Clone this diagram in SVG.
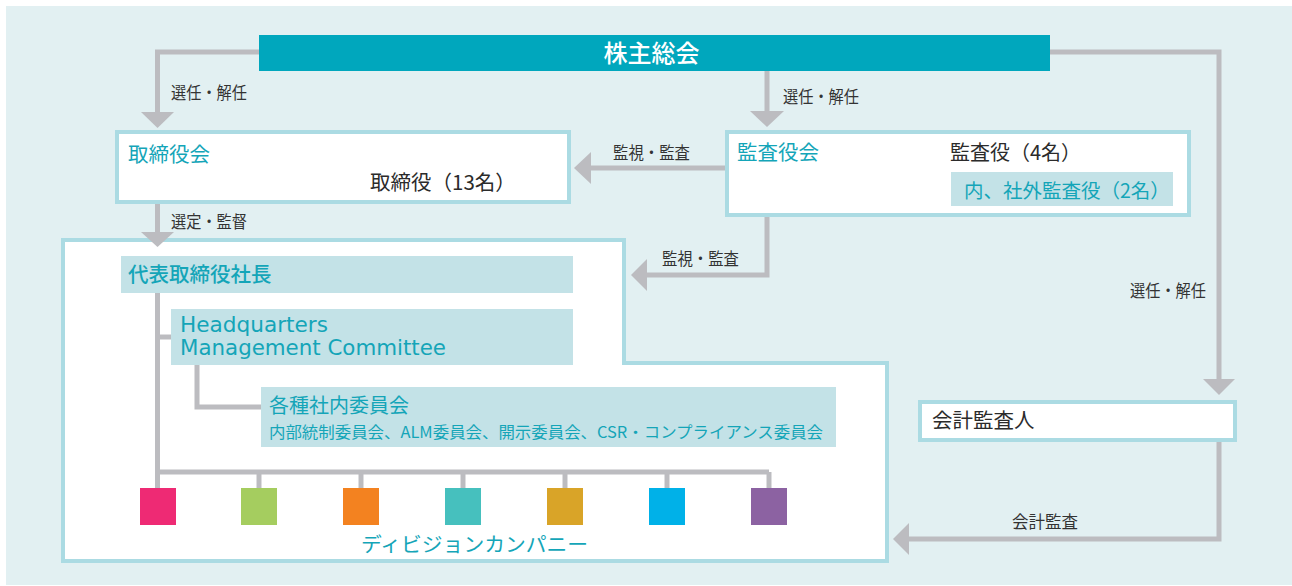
<svg xmlns="http://www.w3.org/2000/svg" width="1292" height="586" viewBox="0 0 1292 586">
<style>
text{font-family:"Noto Sans CJK JP","Noto Sans",sans-serif;}
.lbl{font-size:16.5px;fill:#333;}
.teal{fill:#14a5b8;}
.dark{fill:#2b2b2b;}
.box{fill:#fff;stroke:#abdbe3;stroke-width:4;}
.hl{fill:#c3e2e7;}
.ln{fill:none;stroke:#bcbcc0;stroke-width:5;}
.ah{fill:#bcbcc0;}
.en{font-family:"DejaVu Sans","Liberation Sans",sans-serif;font-size:20.5px;}
</style>
<rect x="6" y="6" width="1286" height="579" fill="#e2f0f2"/>

<g id="shareholders">
  <rect x="259" y="35" width="791" height="36" fill="#00a7bd"/>
  <text x="651.5" y="62" text-anchor="middle" font-size="24" font-weight="500" fill="#fff">株主総会</text>
</g>

<g id="board">
  <rect class="box" x="117" y="132" width="452" height="70"/>
  <text class="teal" x="128" y="162" font-size="20.5">取締役会</text>
  <text class="dark" x="370" y="190" font-size="20.5">取締役（13名）</text>
</g>

<g id="auditors">
  <rect class="box" x="727" y="132" width="462" height="83"/>
  <text class="teal" x="737" y="160" font-size="20.5">監査役会</text>
  <text class="dark" x="950" y="160" font-size="20">監査役（4名）</text>
  <rect class="hl" x="951" y="172" width="222" height="34"/>
  <text class="teal" x="964" y="198" font-size="19.5">内、社外監査役（2名）</text>
</g>

<g id="accounting-auditor">
  <rect class="box" x="920" y="402" width="315" height="38"/>
  <text class="dark" x="932" y="428" font-size="20.5">会計監査人</text>
</g>

<g id="executive">
  <path class="box" d="M63,240 H624 V363 H887 V561 H63 Z"/>
  <g id="president">
    <rect class="hl" x="121" y="256" width="452" height="37"/>
    <text class="teal" x="128" y="282" font-size="20.5" font-weight="500">代表取締役社長</text>
  </g>
  <g id="hq">
    <rect class="hl" x="171" y="309" width="402" height="56"/>
    <text class="teal en" x="180" y="332" textLength="148" lengthAdjust="spacingAndGlyphs">Headquarters</text>
    <text class="teal en" x="180" y="355" textLength="266" lengthAdjust="spacingAndGlyphs">Management Committee</text>
  </g>
  <g id="committees">
    <rect class="hl" x="261" y="387" width="575" height="60"/>
    <text class="teal" x="269" y="413" font-size="20">各種社内委員会</text>
    <text class="teal" x="269" y="438" font-size="15.5" textLength="554" lengthAdjust="spacingAndGlyphs">内部統制委員会、ALM委員会、開示委員会、CSR・コンプライアンス委員会</text>
  </g>
  <g id="inner-lines">
    <polyline class="ln" points="157.5,293 157.5,490"/>
    <polyline class="ln" points="157.5,337 171,337"/>
    <polyline class="ln" points="197,365 197,407 261,407"/>
    <polyline class="ln" points="157.5,472 769,472"/>
    <line class="ln" x1="259" y1="472" x2="259" y2="490"/>
    <line class="ln" x1="361" y1="472" x2="361" y2="490"/>
    <line class="ln" x1="463" y1="472" x2="463" y2="490"/>
    <line class="ln" x1="565" y1="472" x2="565" y2="490"/>
    <line class="ln" x1="667" y1="472" x2="667" y2="490"/>
    <line class="ln" x1="769" y1="472" x2="769" y2="490"/>
  </g>
  <g id="divisions">
    <rect x="140" y="488" width="36" height="37" fill="#ee2a74"/>
    <rect x="241" y="488" width="36" height="37" fill="#a5cd5f"/>
    <rect x="343" y="488" width="36" height="37" fill="#f38220"/>
    <rect x="445" y="488" width="36" height="37" fill="#46c0be"/>
    <rect x="547" y="488" width="36" height="37" fill="#d9a428"/>
    <rect x="649" y="488" width="36" height="37" fill="#00b1e8"/>
    <rect x="751" y="488" width="36" height="37" fill="#8c62a2"/>
    <text class="teal" x="361" y="552" font-size="20" textLength="227" lengthAdjust="spacingAndGlyphs">ディビジョンカンパニー</text>
  </g>
</g>

<g id="connectors">
  <polyline class="ln" points="259,52 157.5,52 157.5,113"/>
  <polygon class="ah" points="141,112 174,112 157.5,128"/>
  <polyline class="ln" points="767,71 767,112"/>
  <polygon class="ah" points="750,111 784,111 767,127"/>
  <polyline class="ln" points="1050,52 1219,52 1219,380"/>
  <polygon class="ah" points="1203,379 1235,379 1219,395"/>
  <polyline class="ln" points="725,168 590,168"/>
  <polygon class="ah" points="591,152 591,184 574,168"/>
  <polyline class="ln" points="157.5,204 157.5,233"/>
  <polygon class="ah" points="141,232 174,232 157.5,247"/>
  <polyline class="ln" points="767,217 767,275 646,275"/>
  <polygon class="ah" points="647,259 647,291 631,275"/>
  <polyline class="ln" points="1219,442 1219,539 908,539"/>
  <polygon class="ah" points="909,523 909,555 893,539"/>
  <text class="lbl" x="171" y="99" textLength="76" lengthAdjust="spacingAndGlyphs">選任・解任</text>
  <text class="lbl" x="783" y="103" textLength="76" lengthAdjust="spacingAndGlyphs">選任・解任</text>
  <text class="lbl" x="1130" y="297" textLength="76" lengthAdjust="spacingAndGlyphs">選任・解任</text>
  <text class="lbl" x="613" y="159" textLength="77" lengthAdjust="spacingAndGlyphs">監視・監査</text>
  <text class="lbl" x="171" y="228" textLength="76" lengthAdjust="spacingAndGlyphs">選定・監督</text>
  <text class="lbl" x="662" y="265" textLength="77" lengthAdjust="spacingAndGlyphs">監視・監査</text>
  <text class="lbl" x="1012" y="528">会計監査</text>
</g>
</svg>
